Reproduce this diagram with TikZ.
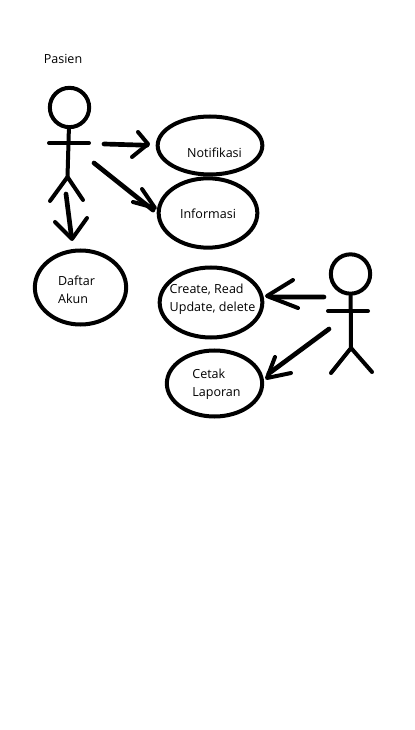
\documentclass[tikz,border=0pt]{standalone}
\usepackage{fontspec}
\setmainfont{Open Sans}
\usetikzlibrary{calc}
\usetikzlibrary{shapes.geometric}
\tikzset{%
  myline/.style={line width=3pt, line cap=round, line join=round},
  myedge/.style={myline, line width=3.5pt, shorten >=#1},
  myhead/.style={circle, draw=black, line width=3pt, inner sep=0pt, minimum size=29.5pt},
  mycase/.style={ellipse, draw=black, line width=3pt, inner sep=0pt},
  mytext/.style={font=\fontsize{9.4}{13.5}\selectfont, align=left, inner sep=0pt}
}

\begin{document}
\begin{tikzpicture}[x=0.75pt, y=-0.75pt]
  \useasboundingbox (0,0) rectangle (414,730);
  % use cases
  \node[mycase, minimum width=78.5pt, minimum height=43.5pt] (notif) at (210,145.5) {};
  \node[mycase, minimum width=74pt, minimum height=52pt] (info) at (208,213) {};
  \node[mycase, minimum width=68.5pt, minimum height=55.5pt] (daftar) at (80.5,287.5) {};
  \node[mycase, minimum width=77pt, minimum height=52.5pt] (crud) at (211,302.5) {};
  \node[mycase, minimum width=71.5pt, minimum height=49.5pt] (cetak) at (214.5,383.5) {};
  \node[mytext] (tnotif) at (214.5,152.5) {Notifikasi};
  \node[mytext] (tinfo) at (208,213.5) {Informasi};
  \node[mytext] (tdaftar) at (76.5,289.5) {Daftar\\Akun};
  \node[mytext] (tcrud) at (212.5,299.5) {Create, Read\\Update, delete};
  \node[mytext] (tcetak) at (216.5,384.5) {Cetak\\Laporan};
  \node[mytext] (tpasien) at (63,58.5) {Pasien};
  % pasien
  \node[myhead] (pasien) at (69.5,107.5) {};
  \coordinate (pasienhip) at (67.5,177);
  \draw [myline] (pasien) -- (pasienhip);
  \draw [myline] (49,143) -- (89,143);
  \draw [myline] (50,201) -- (pasienhip) -- (83,200);
  % petugas
  \node[myhead] (admin) at (350.5,274) {};
  \coordinate (adminhip) at (351,348);
  \draw [myline] (admin) -- (adminhip);
  \draw [myline] (328,311) -- (368,311);
  \draw [myline] (331,373) -- (adminhip) -- (372,372);
  % arrows
  \coordinate (a1) at (104,144);
  \coordinate (a2) at (94,163);
  \coordinate (a3) at (66,194);
  \coordinate (a4) at (324,297);
  \coordinate (a5) at (329,329);
  \draw [myedge=6.5pt] (a1) -- (notif.west);
  \draw [myedge=3.5pt] (a2) -- (info.west);
  \draw [myedge=10pt] (a3) -- (daftar.101);
  \draw [myedge=5pt] (a4) -- (crud.6);
  \draw [myedge=5pt] (a5) -- (cetak.7);
  \draw [myline] (138,132) -- (148,144) -- (132,157);
  \draw [myline] (142,189) -- (155,208) -- (133,202);
  \draw [myline] (55,222) -- (72,239) -- (87,218);
  \draw [myline] (293,280) -- (267,296) -- (298,308);
  \draw [myline] (275,357) -- (267,378) -- (291,373);
\end{tikzpicture}
\end{document}
